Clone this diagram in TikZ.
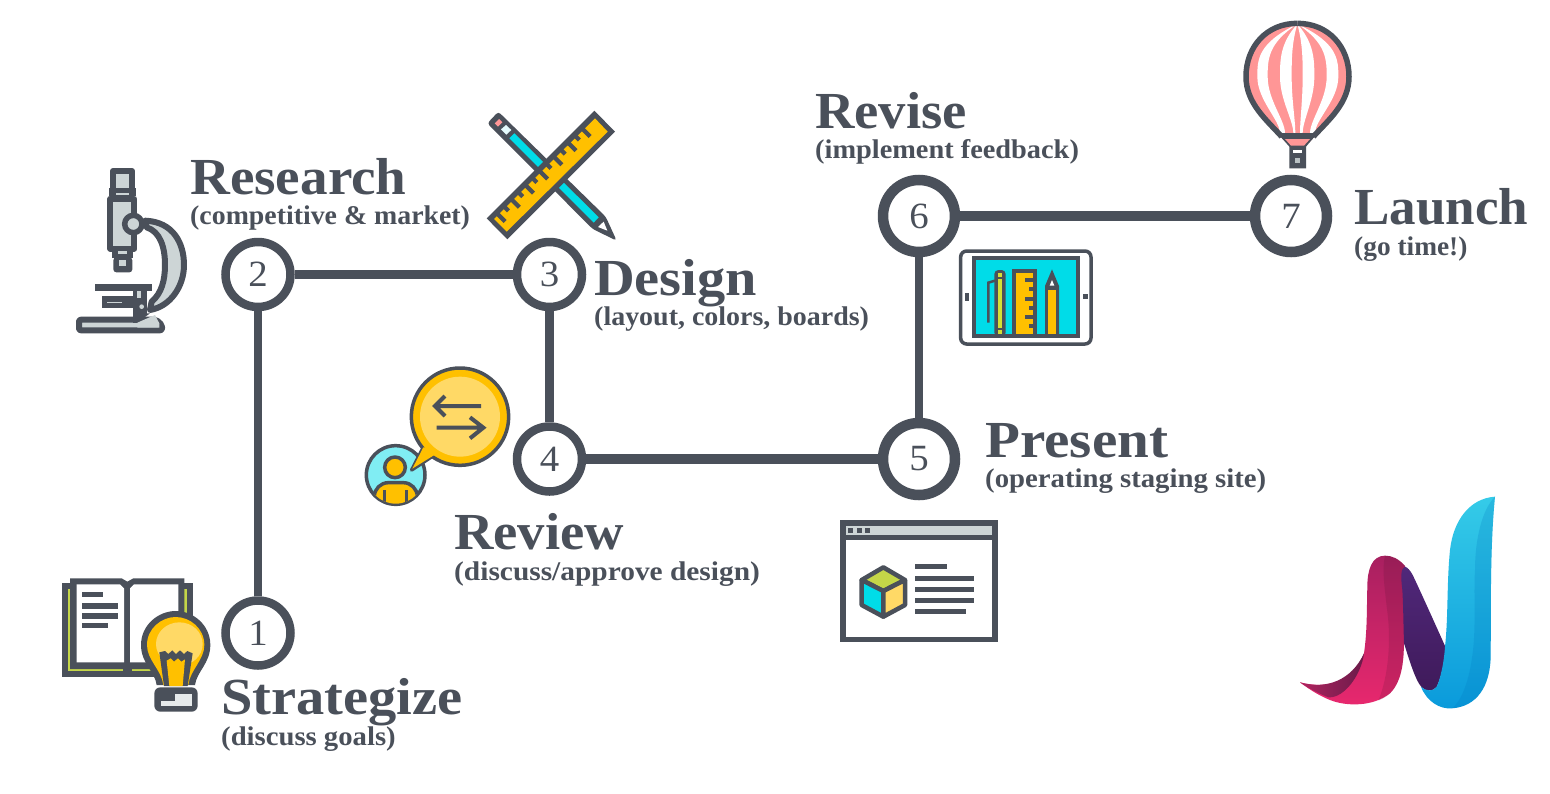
\documentclass[tikz,border=0pt]{standalone}
\usepackage{fontspec}
\usepackage{graphicx}
\setmainfont{Liberation Serif}
\newfontfamily\lora[FakeStretch=1.05]{Liberation Serif}
\newcommand{\fitw}[2]{\scalebox{#1}[1]{#2}}
\definecolor{ink}{HTML}{4A505A}
\definecolor{amber}{HTML}{FFC000}
\definecolor{sun}{HTML}{FFD966}
\definecolor{aqua}{HTML}{00DCE8}
\definecolor{lime}{HTML}{C4D648}
\definecolor{rose}{HTML}{FF9696}
\definecolor{mist}{HTML}{CDD5D6}
\definecolor{pinka}{HTML}{A82060}
\definecolor{pinkb}{HTML}{EE2D70}
\definecolor{pinkc}{HTML}{E8286E}
\definecolor{maroa}{HTML}{B0245F}
\definecolor{marob}{HTML}{6A1B4A}
\definecolor{purpa}{HTML}{50287A}
\definecolor{purpb}{HTML}{6B2C8A}
\definecolor{purpc}{HTML}{3F1A5A}
\definecolor{bluea}{HTML}{35CBE8}
\definecolor{blueb}{HTML}{08AEEF}
\definecolor{bluec}{HTML}{0A9ADB}
\definecolor{blued}{HTML}{0078C0}
\tikzset{
  zoomed/.style={shift={#1},scale=0.33333},
  conn/.style={draw=ink,line width=8.5pt},
  connwide/.style={draw=ink,line width=10pt},
  stepsmall/.style={circle,draw=ink,fill=white,line width=8.5pt,minimum size=65pt,inner sep=0pt,text=ink,font=\lora\fontsize{37}{37}\selectfont},
  stepbig/.style={stepsmall,line width=10.5pt,minimum size=72pt},
  ttl/.style={anchor=base west,inner sep=0pt,text=ink,font=\lora\bfseries\fontsize{52}{52}\selectfont},
  sub/.style={anchor=base west,inner sep=0pt,text=ink,font=\lora\bfseries\fontsize{27}{27}\selectfont},
  ol/.style={draw=ink,line join=round},
}
\begin{document}
\begin{tikzpicture}[x=1pt,y=-1pt]
\useasboundingbox (0,0) rectangle (1550,793);
\fill[white] (0,0) rectangle (1550,793);

% step nodes
\node[stepsmall] (n1) at (258,633) {1};
\node[stepsmall] (n2) at (258,274.5) {2};
\node[stepsmall] (n3) at (549.5,274.5) {3};
\node[stepsmall] (n4) at (549.5,459) {4};
\node[stepbig] (n5) at (919,459) {5};
\node[stepbig] (n6) at (919,216) {6};
\node[stepbig] (n7) at (1291,216) {7};
\draw[conn] (n1) -- (n2);
\draw[conn] (n2) -- (n3);
\draw[conn] (n3) -- (n4);
\draw[connwide] (n4) -- (n5);
\draw[conn] (n5) -- (n6);
\draw[connwide] (n6) -- (n7);

% labels
\node[ttl] (t1) at (221,714) {\fitw{1.034}{Strategize}};
\node[sub] (s1) at (221,745) {\fitw{1.012}{(discuss goals)}};
\node[ttl] (t2) at (190,194) {\fitw{1.01}{Research}};
\node[sub] (s2) at (190,224) {\fitw{0.982}{(competitive \& market)}};
\node[ttl] (t3) at (594,295) {\fitw{1.032}{Design}};
\node[sub] (s3) at (594,325) {\fitw{0.986}{(layout, colors, boards)}};
\node[ttl] (t4) at (454,549) {Review};
\node[sub] (s4) at (454,580) {\fitw{1.037}{(discuss/approve design)}};
\node[ttl] (t5) at (985,457) {\fitw{1.046}{Present}};
\node[sub] (s5) at (985,487) {\fitw{1.014}{(operating staging site)}};
\node[ttl] (t6) at (815,128) {Revise};
\node[sub] (s6) at (815,158) {(implement feedback)};
\node[ttl] (t7) at (1354,224) {\fitw{0.972}{Launch}};
\node[sub] (s7) at (1354,255) {\fitw{0.966}{(go time!)}};

% microscope
\begin{scope}[zoomed={(50,150)}]
  \draw[ol,fill=mist,line width=6pt] (285,212) .. controls (370,215) and (402,280) .. (402,345) .. controls (402,410) and (360,470) .. (300,480) -- (305,455) .. controls (335,430) and (345,390) .. (345,345) .. controls (345,290) and (330,245) .. (290,232) -- cycle;
  \draw[ol,fill=mist,line width=6pt] (189,63) rectangle (246,122);
  \fill[ink] (178,115) rectangle (258,137);
  \fill[mist] (198,128) rectangle (238,134);
  \draw[ol,fill=mist,line width=6pt] (181,146) rectangle (253,296);
  \fill[ink] (185,300) rectangle (250,325);
  \fill[mist] (204,304) rectangle (231,311);
  \fill[ink,rounded corners=3pt] (190,322) rectangle (247,367);
  \fill[mist] (208,330) rectangle (228,347);
  \draw[ol,fill=mist,line width=5.5pt] (250,222) circle (26);
  \draw[ol,fill=mist,line width=6pt,rounded corners=2pt] (87,541) -- (87,509) -- (250,509) -- (318,509) -- (336,525) -- (336,541) -- cycle;
  \fill[ink] (250,415) rectangle (292,495);
  \fill[mist] (262,422) rectangle (272,445);
  \fill[mist] (275,470) circle (7);
  \fill[ink] (135,403) rectangle (307,422);
  \fill[ink] (157,437) rectangle (250,475);
  \fill[mist] (172,455) rectangle (215,457);
  \fill[mist] (262,518) -- (315,495) -- (328,520) -- (328,533) -- (262,533) -- cycle;
  \fill[ink] (250,490) rectangle (262,518);
  \fill[ink] (250,490) -- (300,490) -- (262,518) -- cycle;
\end{scope}

% book and bulb
\begin{scope}[zoomed={(50,570)}]
  \fill[ink] (37,40) rectangle (428,322);
  \fill[lime] (55,58) rectangle (410,303);
  \fill[ink] (60,25) -- (215,25) -- (232,35) -- (250,25) -- (403,25) -- (403,297) -- (60,297) -- cycle;
  \fill[ink] (220,290) rectangle (245,310);
  \fill[white] (80,43) -- (210,43) -- (222,55) -- (222,277) -- (80,277) -- cycle;
  \fill[white] (240,55) -- (252,43) -- (385,43) -- (385,277) -- (240,277) -- cycle;
  \fill[ink] (97,65) rectangle (160,82);
  \fill[ink] (97,98) rectangle (203,117);
  \fill[ink] (97,128) rectangle (203,147);
  \fill[ink] (97,158) rectangle (173,175);
  \fill[ink] (320,345) .. controls (315,305) and (273,280) .. (273,225) .. controls (273,165) and (325,123) .. (377,123) .. controls (430,123) and (481,165) .. (481,225) .. controls (481,280) and (440,305) .. (435,345) -- cycle;
  \fill[amber] (340,345) .. controls (335,300) and (291,270) .. (291,225) .. controls (291,175) and (335,141) .. (377,141) .. controls (420,141) and (463,175) .. (463,225) .. controls (463,270) and (420,300) .. (415,345) -- cycle;
  \begin{scope}
    \clip (340,345) .. controls (335,300) and (291,270) .. (291,225) .. controls (291,175) and (335,141) .. (377,141) .. controls (420,141) and (463,175) .. (463,225) .. controls (463,270) and (420,300) .. (415,345) -- cycle;
    \fill[sun] (388,222) ellipse (70 and 65);
  \end{scope}
  \fill[ink] (342,348) -- (328,247) -- (345,243) -- (355,252) -- (367,241) -- (378,252) -- (390,241) -- (402,252) -- (412,243) -- (428,250) -- (413,348) -- cycle;
  \fill[amber] (358,348) -- (350,272) -- (362,265) -- (372,275) -- (384,265) -- (394,275) -- (405,268) -- (398,348) -- cycle;
  \fill[ink,rounded corners=6pt] (313,352) rectangle (443,425);
  \fill[mist!50!white] (375,372) rectangle (425,393);
  \fill[mist!50!white] (333,393) rectangle (425,407);
\end{scope}

% pencil and ruler
\begin{scope}[zoomed={(480,100)}]
  \fill[ink,rounded corners=3pt] (22,70) -- (55,35) -- (377,350) -- (410,422) -- (338,387) -- cycle;
  \fill[rose] (44,70) -- (57,57) -- (67,67) -- (54,80) -- cycle;
  \fill[white!90!aqua] (63,88) -- (78,75) -- (94,90) -- (79,104) -- cycle;
  \fill[aqua] (88,115) -- (103,100) -- (356,352) -- (341,368) -- cycle;
  \fill[white] (354,381) -- (371,365) -- (382,392) -- cycle;
  \fill[ink] (343,32) -- (405,95) -- (82,418) -- (20,355) -- cycle;
  \fill[amber] (345,55) -- (383,95) -- (80,395) -- (42,357) -- cycle;
  \foreach \i in {0,...,6}{
    \fill[ink] ({55+\i*42.5-9},{344-\i*42.5+0}) -- ({55+\i*42.5+0},{344-\i*42.5-9}) -- ({55+\i*42.5+25},{344-\i*42.5+16}) -- ({55+\i*42.5+16},{344-\i*42.5+25}) -- cycle;
    \ifnum\i<6
    \fill[ink] ({76+\i*42.5-9},{323-\i*42.5+0}) -- ({76+\i*42.5+0},{323-\i*42.5-9}) -- ({76+\i*42.5+14},{323-\i*42.5+5}) -- ({76+\i*42.5+5},{323-\i*42.5+14}) -- cycle;
    \fi
  }
\end{scope}

% speech bubble
\begin{scope}[zoomed={(355,360)}]
  \draw[ol,fill=aqua!50!white,line width=3.5pt] (122,345) circle (88);
  \begin{scope}
    \clip (122,345) circle (86);
    \draw[ol,fill=amber,line width=3.5pt,rounded corners=14pt] (58,460) -- (58,368) -- (187,368) -- (187,460) -- cycle;
    \draw[ink,line width=3.5pt] (88,390) -- (88,440) (155,390) -- (155,440);
  \end{scope}
  \draw[ol,fill=amber,line width=3.5pt] (120,322) circle (31);
  \draw[ol,fill=amber,line width=3.5pt] (205,262) -- (170,330) -- (238,285) -- cycle;
  \draw[ol,fill=amber,line width=3.5pt] (315,170) circle (146);
  \fill[amber] (205,262) -- (172,326) -- (238,285) -- (260,260) -- cycle;
  \fill[sun] (315,170) circle (120);
  \draw[ink,line width=4pt] (378,138) -- (245,138) (270,108) -- (240,138) -- (270,168);
  \draw[ink,line width=4pt] (245,203) -- (382,203) (345,172) -- (385,203) -- (345,235);
\end{scope}

% browser window
\begin{scope}[zoomed={(830,510)}]
  \fill[mist] (48,47) rectangle (488,75);
  \draw[ink,line width=5.5pt] (38.5,39.5) rectangle (495.5,388);
  \fill[ink] (38,75) rectangle (495,90);
  \fill[ink] (38,380) rectangle (495,395);
  \fill[ink] (55,53) rectangle (70,68);
  \fill[ink] (80,53) rectangle (95,68);
  \fill[ink] (105,53) rectangle (120,68);
  \fill[ink] (255,163) rectangle (350,178);
  \fill[ink] (255,197) rectangle (433,212);
  \fill[ink] (255,230) rectangle (433,245);
  \fill[ink] (255,263) rectangle (433,278);
  \fill[ink] (255,297) rectangle (408,312);
  \draw[ol,fill=lime,line width=4.5pt] (160,172) -- (225,210) -- (160,243) -- (95,210) -- cycle;
  \draw[ol,fill=aqua,line width=4.5pt] (95,210) -- (160,243) -- (160,320) -- (95,285) -- cycle;
  \draw[ol,fill=sun,line width=4.5pt] (225,210) -- (160,243) -- (160,320) -- (225,285) -- cycle;
\end{scope}

% tablet
\begin{scope}[zoomed={(950,240)}]
  \draw[ink,fill=white,line width=3.5pt,rounded corners=6pt] (32,33) rectangle (423,312);
  \draw[ink,fill=aqua,line width=4pt] (73,55) rectangle (385,287);
  \fill[ink] (44,160) rectangle (56,182);
  \fill[ink] (400,163) rectangle (413,178);
  \draw[ink,line width=2.5pt] (135,122) -- (115,128) -- (115,248);
  \fill[ink,rounded corners=4pt] (133,90) rectangle (167,290);
  \fill[lime!75!yellow] (143,98) rectangle (157,110);
  \fill[lime!75!yellow] (143,118) rectangle (157,265);
  \fill[lime!75!yellow] (143,270) rectangle (157,282);
  \fill[ink] (187,88) rectangle (262,290);
  \fill[amber] (197,100) rectangle (250,282);
  \foreach \yy/\xx in {120/226,148/238,176/226,203/238,230/226,258/238}{
    \fill[ink] (\xx,\yy-6) rectangle (252,\yy+6);
  }
  \fill[ink] (285,290) -- (285,138) -- (306,88) -- (327,138) -- (327,290) -- cycle;
  \fill[amber] (295,150) rectangle (317,282);
  \fill[white] (299,137) -- (306,120) -- (313,137) -- cycle;
\end{scope}

% balloon
\begin{scope}[zoomed={(1230,0)}]
  \def\env{(202,70) .. controls (110,70) and (48,140) .. (48,230) .. controls (48,310) and (110,360) .. (165,425) -- (240,425) .. controls (295,360) and (357,310) .. (357,230) .. controls (357,140) and (295,70) .. cycle}
  \fill[rose] \env;
  \begin{scope}
    \clip \env;
    \foreach \xl/\xr/\bl/\br in {82/113/150/165,150/185/190/196,218/253/210/218,290/325/240/255}{
      \fill[white] (202,72) .. controls (\xl,130) and (\xl,180) .. (\xl,230) .. controls (\xl,300) and (\bl,360) .. (\bl,400) -- (\br,400) .. controls (\br,360) and (\xr,300) .. (\xr,230) .. controls (\xr,180) and (\xr,130) .. (202,72) -- cycle;
    }
    \fill[ink] (120,400) rectangle (290,420);
  \end{scope}
  \draw[ol,line width=5.5pt] (202,70) .. controls (110,70) and (48,140) .. (48,230) .. controls (48,310) and (110,360) .. (155,410);
  \draw[ol,line width=5.5pt] (202,70) .. controls (295,70) and (357,140) .. (357,230) .. controls (357,310) and (295,360) .. (250,410);
  \fill[ink] (143,400) -- (262,400) -- (228,440) -- (228,505) -- (178,505) -- (178,440) -- cycle;
  \fill[rose] (165,417) -- (240,417) -- (222,437) -- (183,437) -- cycle;
  \fill[white] (190,450) rectangle (215,460);
  \fill[mist!85!ink] (195,475) rectangle (210,490);
\end{scope}

% logo
\begin{scope}[zoomed={(1290,490)}]
  \shade[top color=pinka,middle color=pinkb,bottom color=pinkc]
   (30,577) .. controls (60,600) and (90,618) .. (120,630) .. controls (170,650) and (250,650) .. (300,610) .. controls (340,570) and (342,500) .. (342,440) .. controls (340,380) and (345,300) .. (345,228) .. controls (325,205) and (305,197) .. (285,197) .. controls (245,197) and (232,240) .. (232,290) .. controls (230,360) and (232,420) .. (222,490) .. controls (190,570) and (120,600) .. (30,577) -- cycle;
  \fill[black!60!pinka,opacity=.15] (285,197) .. controls (305,197) and (325,205) .. (345,228) .. controls (345,300) and (340,380) .. (342,440) .. controls (342,500) and (340,570) .. (300,610) .. controls (290,620) and (280,625) .. (265,632) .. controls (295,560) and (305,450) .. (290,350) .. controls (285,300) and (275,240) .. (285,197) -- cycle;
  \shade[left color=maroa,right color=marob]
   (30,577) .. controls (110,600) and (185,570) .. (222,490) .. controls (215,550) and (165,625) .. (115,622) .. controls (85,610) and (55,595) .. (30,577) -- cycle;
  \shade[top color=purpa,middle color=purpb,bottom color=purpc]
   (345,230) .. controls (332,235) and (332,260) .. (337,300) .. controls (340,350) and (340,400) .. (342,460) .. controls (355,500) and (375,570) .. (395,592) .. controls (410,605) and (430,605) .. (440,590) .. controls (455,560) and (465,510) .. (466,470) .. controls (430,390) and (385,290) .. (368,255) .. controls (360,240) and (352,232) .. (345,230) -- cycle;
  \shade[top color=bluea,middle color=blueb,bottom color=bluec]
   (615,20) .. controls (540,25) and (490,90) .. (480,180) .. controls (470,280) and (475,380) .. (465,470) .. controls (462,520) and (450,570) .. (440,590) .. controls (430,605) and (410,605) .. (393,590) .. controls (410,635) and (450,658) .. (485,655) .. controls (560,650) and (600,590) .. (602,500) .. controls (603,350) and (600,170) .. (615,20) -- cycle;
  \fill[blued,opacity=.22] (615,20) .. controls (575,60) and (555,150) .. (555,240) .. controls (550,320) and (560,420) .. (545,510) .. controls (535,580) and (510,640) .. (485,655) .. controls (560,650) and (600,590) .. (602,500) .. controls (603,350) and (600,170) .. (615,20) -- cycle;
\end{scope}
\end{tikzpicture}
\end{document}
